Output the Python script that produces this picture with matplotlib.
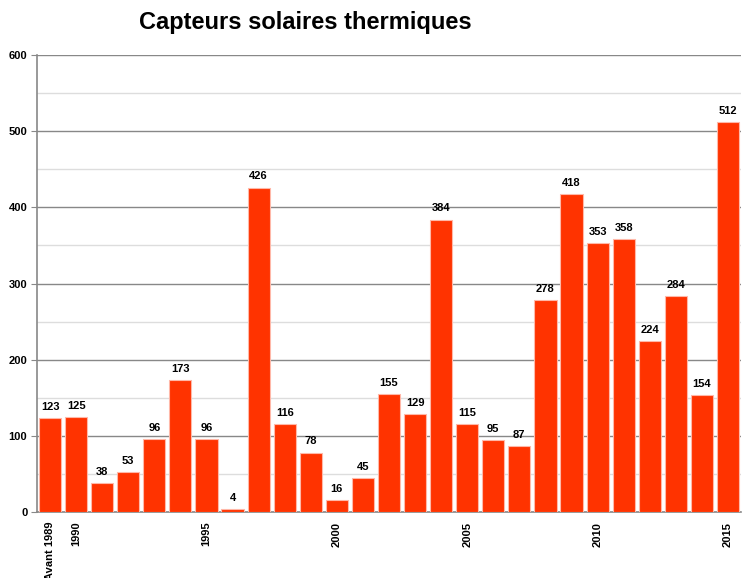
import matplotlib
matplotlib.use("Agg")
import matplotlib.pyplot as plt
from matplotlib.ticker import MultipleLocator

categories = ["Avant 1989"] + [str(y) for y in range(1990, 2016)]
values = [123, 125, 38, 53, 96, 173, 96, 4, 426, 116, 78, 16, 45, 155, 129,
          384, 115, 95, 87, 278, 418, 353, 358, 224, 284, 154, 512]
shown_ticks = ["Avant 1989", "1990", "1995", "2000", "2005", "2010", "2015"]
title = "Capteurs solaires thermiques"

plt.rcParams['font.family'] = ['Liberation Sans', 'DejaVu Sans']

fig = plt.figure(figsize=(7.43, 5.78), dpi=100)
ax = fig.add_axes([37/743, 1 - 512/578, 704/743, (512 - 55)/578])

x = list(range(len(categories)))
bars = ax.bar(x, values, width=0.85, color="#FF3300", edgecolor="#FFB8A8",
              linewidth=0.8, zorder=3)
for xi, v in zip(x, values):
    ax.text(xi, v + 8, str(v), ha="center", va="bottom", fontsize=8,
            fontweight="bold", color="black", zorder=4)

ax.set_xlim(-0.5, len(categories) - 0.5)
ax.set_ylim(0, 600)
ax.yaxis.set_major_locator(MultipleLocator(100))
ax.yaxis.set_minor_locator(MultipleLocator(50))
ax.grid(axis="y", which="major", color="#888888", linewidth=1.0, zorder=0)
ax.grid(axis="y", which="minor", color="#DDDDDD", linewidth=1.0, zorder=0)
ax.tick_params(axis="y", which="minor", length=0)
ax.tick_params(axis="y", which="major", length=4, color="#888888", labelsize=8, pad=3)
for lab in ax.get_yticklabels():
    lab.set_fontweight("bold")

tick_pos = [categories.index(c) for c in shown_ticks]
ax.set_xticks(tick_pos)
ax.set_xticklabels(shown_ticks, rotation=90, fontsize=8, fontweight="bold", va="top")
ax.tick_params(axis="x", length=0, pad=7)

for s in ["top", "right"]:
    ax.spines[s].set_visible(False)
ax.spines["left"].set_color("#888888")
ax.spines["bottom"].set_color("#888888")
ax.spines["left"].set_linewidth(1.2)
ax.spines["bottom"].set_linewidth(1.2)

fig.text(305/743, 1 - 22/578, title, ha="center", va="center", fontsize=17,
         fontweight="bold")

fig.savefig("out.png", dpi=100)
